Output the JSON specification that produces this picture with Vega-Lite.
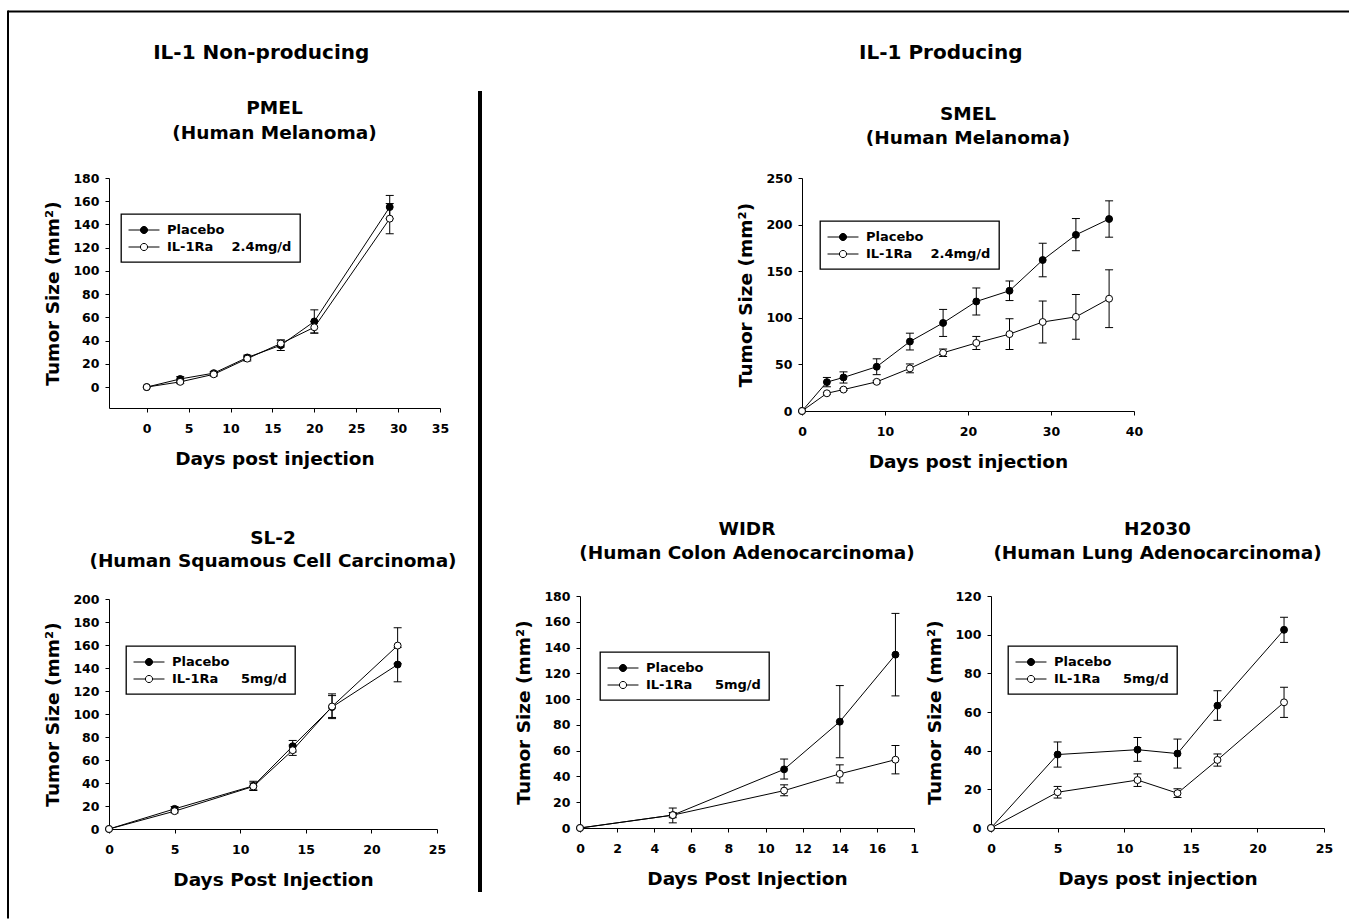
{
  "$schema": "https://vega.github.io/schema/vega-lite/v6.json",
  "padding": {"left": 7, "top": 9, "right": 0, "bottom": 0},
  "background": "white",
  "datasets": {
    "tumor": [
      {"panel": "PMEL", "series": "Placebo", "day": 0, "size": 0, "lo": null, "hi": null},
      {"panel": "PMEL", "series": "Placebo", "day": 4, "size": 7, "lo": 5, "hi": 9},
      {"panel": "PMEL", "series": "Placebo", "day": 8, "size": 12, "lo": 10.5, "hi": 13.5},
      {"panel": "PMEL", "series": "Placebo", "day": 12, "size": 25.5, "lo": 23.5, "hi": 27.5},
      {"panel": "PMEL", "series": "Placebo", "day": 16, "size": 36, "lo": 31.5, "hi": 40.5},
      {"panel": "PMEL", "series": "Placebo", "day": 20, "size": 56.5, "lo": 46.5, "hi": 66.5},
      {"panel": "PMEL", "series": "Placebo", "day": 29, "size": 155, "lo": 145, "hi": 165},
      {"panel": "PMEL", "series": "IL-1Ra", "day": 0, "size": 0, "lo": null, "hi": null},
      {"panel": "PMEL", "series": "IL-1Ra", "day": 4, "size": 4.5, "lo": 3, "hi": 6},
      {"panel": "PMEL", "series": "IL-1Ra", "day": 8, "size": 11, "lo": 9.5, "hi": 12.5},
      {"panel": "PMEL", "series": "IL-1Ra", "day": 12, "size": 24.5, "lo": 22.5, "hi": 26.5},
      {"panel": "PMEL", "series": "IL-1Ra", "day": 16, "size": 37.5, "lo": 34.5, "hi": 40.5},
      {"panel": "PMEL", "series": "IL-1Ra", "day": 20, "size": 51.5, "lo": 46.5, "hi": 56.5},
      {"panel": "PMEL", "series": "IL-1Ra", "day": 29, "size": 145, "lo": 132, "hi": 158},

      {"panel": "SMEL", "series": "Placebo", "day": 0, "size": 0, "lo": null, "hi": null},
      {"panel": "SMEL", "series": "Placebo", "day": 3, "size": 31, "lo": 26, "hi": 36},
      {"panel": "SMEL", "series": "Placebo", "day": 5, "size": 36, "lo": 30, "hi": 42},
      {"panel": "SMEL", "series": "Placebo", "day": 9, "size": 47.5, "lo": 39, "hi": 56},
      {"panel": "SMEL", "series": "Placebo", "day": 13, "size": 74.5, "lo": 65.5, "hi": 83.5},
      {"panel": "SMEL", "series": "Placebo", "day": 17, "size": 94.5, "lo": 80, "hi": 109},
      {"panel": "SMEL", "series": "Placebo", "day": 21, "size": 117.5, "lo": 103, "hi": 132},
      {"panel": "SMEL", "series": "Placebo", "day": 25, "size": 129, "lo": 118.5, "hi": 139.5},
      {"panel": "SMEL", "series": "Placebo", "day": 29, "size": 162, "lo": 144, "hi": 180},
      {"panel": "SMEL", "series": "Placebo", "day": 33, "size": 189, "lo": 172, "hi": 206.5},
      {"panel": "SMEL", "series": "Placebo", "day": 37, "size": 206, "lo": 186.5, "hi": 225.5},
      {"panel": "SMEL", "series": "IL-1Ra", "day": 0, "size": 0, "lo": null, "hi": null},
      {"panel": "SMEL", "series": "IL-1Ra", "day": 3, "size": 19, "lo": 18, "hi": 20},
      {"panel": "SMEL", "series": "IL-1Ra", "day": 5, "size": 23, "lo": 22, "hi": 24},
      {"panel": "SMEL", "series": "IL-1Ra", "day": 9, "size": 31.3, "lo": 30, "hi": 32.6},
      {"panel": "SMEL", "series": "IL-1Ra", "day": 13, "size": 45.7, "lo": 41, "hi": 50.5},
      {"panel": "SMEL", "series": "IL-1Ra", "day": 17, "size": 62.5, "lo": 58.5, "hi": 66.5},
      {"panel": "SMEL", "series": "IL-1Ra", "day": 21, "size": 73, "lo": 66, "hi": 80},
      {"panel": "SMEL", "series": "IL-1Ra", "day": 25, "size": 82.5, "lo": 66, "hi": 99},
      {"panel": "SMEL", "series": "IL-1Ra", "day": 29, "size": 95.5, "lo": 73, "hi": 118},
      {"panel": "SMEL", "series": "IL-1Ra", "day": 33, "size": 101, "lo": 77, "hi": 125},
      {"panel": "SMEL", "series": "IL-1Ra", "day": 37, "size": 120.5, "lo": 89.5, "hi": 151.5},

      {"panel": "SL2", "series": "Placebo", "day": 0, "size": 0, "lo": null, "hi": null},
      {"panel": "SL2", "series": "Placebo", "day": 5, "size": 17.5, "lo": 15.5, "hi": 19.5},
      {"panel": "SL2", "series": "Placebo", "day": 11, "size": 37.5, "lo": 33.5, "hi": 41.5},
      {"panel": "SL2", "series": "Placebo", "day": 14, "size": 72, "lo": 67, "hi": 77},
      {"panel": "SL2", "series": "Placebo", "day": 17, "size": 106, "lo": 96, "hi": 116},
      {"panel": "SL2", "series": "Placebo", "day": 22, "size": 143, "lo": 128, "hi": 158},
      {"panel": "SL2", "series": "IL-1Ra", "day": 0, "size": 0, "lo": null, "hi": null},
      {"panel": "SL2", "series": "IL-1Ra", "day": 5, "size": 15.5, "lo": 14, "hi": 17},
      {"panel": "SL2", "series": "IL-1Ra", "day": 11, "size": 37, "lo": 34, "hi": 40},
      {"panel": "SL2", "series": "IL-1Ra", "day": 14, "size": 68.5, "lo": 64, "hi": 73},
      {"panel": "SL2", "series": "IL-1Ra", "day": 17, "size": 106.5, "lo": 97, "hi": 117.5},
      {"panel": "SL2", "series": "IL-1Ra", "day": 22, "size": 159.5, "lo": 144, "hi": 175},

      {"panel": "WIDR", "series": "Placebo", "day": 0, "size": 0, "lo": null, "hi": null},
      {"panel": "WIDR", "series": "Placebo", "day": 5, "size": 10, "lo": 4, "hi": 15.5},
      {"panel": "WIDR", "series": "Placebo", "day": 11, "size": 45.5, "lo": 38, "hi": 53.5},
      {"panel": "WIDR", "series": "Placebo", "day": 14, "size": 82.5, "lo": 54.5, "hi": 110.5},
      {"panel": "WIDR", "series": "Placebo", "day": 17, "size": 134.5, "lo": 102.5, "hi": 166.5},
      {"panel": "WIDR", "series": "IL-1Ra", "day": 0, "size": 0, "lo": null, "hi": null},
      {"panel": "WIDR", "series": "IL-1Ra", "day": 5, "size": 10, "lo": 8, "hi": 12},
      {"panel": "WIDR", "series": "IL-1Ra", "day": 11, "size": 29, "lo": 25, "hi": 33.5},
      {"panel": "WIDR", "series": "IL-1Ra", "day": 14, "size": 42, "lo": 35, "hi": 49},
      {"panel": "WIDR", "series": "IL-1Ra", "day": 17, "size": 53, "lo": 42, "hi": 64},

      {"panel": "H2030", "series": "Placebo", "day": 0, "size": 0, "lo": null, "hi": null},
      {"panel": "H2030", "series": "Placebo", "day": 5, "size": 38, "lo": 31.5, "hi": 44.5},
      {"panel": "H2030", "series": "Placebo", "day": 11, "size": 40.5, "lo": 34.5, "hi": 46.8},
      {"panel": "H2030", "series": "Placebo", "day": 14, "size": 38.5, "lo": 31, "hi": 46},
      {"panel": "H2030", "series": "Placebo", "day": 17, "size": 63.3, "lo": 55.7, "hi": 71},
      {"panel": "H2030", "series": "Placebo", "day": 22, "size": 102.5, "lo": 96, "hi": 109},
      {"panel": "H2030", "series": "IL-1Ra", "day": 0, "size": 0, "lo": null, "hi": null},
      {"panel": "H2030", "series": "IL-1Ra", "day": 5, "size": 18.5, "lo": 15.5, "hi": 21.5},
      {"panel": "H2030", "series": "IL-1Ra", "day": 11, "size": 24.8, "lo": 21.5, "hi": 28},
      {"panel": "H2030", "series": "IL-1Ra", "day": 14, "size": 18, "lo": 15.8, "hi": 20.3},
      {"panel": "H2030", "series": "IL-1Ra", "day": 17, "size": 35.2, "lo": 32, "hi": 38.3},
      {"panel": "H2030", "series": "IL-1Ra", "day": 22, "size": 65, "lo": 57.2, "hi": 72.8}
    ]
  },
  "bounds": "flush",
  "spacing": 100,
  "resolve": {"scale": {"x": "independent", "y": "independent", "fill": "independent"}, "axis": {"x": "independent", "y": "independent"}, "legend": {"fill": "independent"}},
  "hconcat": [
    {
      "width": 1,
      "height": 1,
      "data": {"values": [{}]},
      "layer": [
        {"mark": {"type": "rule", "color": "black", "strokeWidth": 2},
         "encoding": {
           "x": {"datum": 0, "type": "quantitative", "scale": {"domain": [0, 1]}, "axis": null},
           "y": {"datum": 168.5, "type": "quantitative", "scale": {"domain": [0, 1]}, "axis": null},
           "y2": {"datum": -739.5}}},
        {"mark": {"type": "rule", "color": "black", "strokeWidth": 2},
         "encoding": {
           "x": {"datum": 0, "type": "quantitative", "axis": null},
           "x2": {"datum": 1341},
           "y": {"datum": 167.5, "type": "quantitative", "axis": null}}}
      ]
    },
    {
      "spacing": 32,
      "resolve": {"scale": {"x": "independent", "y": "independent", "fill": "independent"}, "axis": {"x": "independent", "y": "independent"}, "legend": {"fill": "independent"}},
      "hconcat": [
        {
          "spacing": 21,
          "resolve": {"scale": {"x": "independent", "y": "independent", "fill": "independent"}, "axis": {"x": "independent", "y": "independent"}, "legend": {"fill": "independent"}},
          "hconcat": [
            {
              "bounds": "flush",
              "spacing": 191,
              "title": {"text": "IL-1 Non-producing", "fontSize": 20, "offset": 36, "dx": 11, "anchor": "middle"},
              "resolve": {"scale": {"x": "independent", "y": "independent", "fill": "independent"}, "axis": {"x": "independent", "y": "independent"}, "legend": {"fill": "independent"}},
              "vconcat": [
                {
                  "width": 331,
                  "height": 230,
                  "title": {"text": ["PMEL", "(Human Melanoma)"], "offset": 29.5, "lineHeight": 25, "frame": "group"},
                  "data": {"name": "tumor"},
                  "transform": [{"filter": "datum.panel === 'PMEL'"}],
                  "encoding": {
                    "x": {"field": "day", "type": "quantitative", "title": "Days post injection",
                      "scale": {"domain": [-4.5, 35], "nice": false, "zero": false},
                      "axis": {"values": [0, 5, 10, 15, 20, 25, 30, 35], "tickCount": 40, "format": "d", "labelOverlap": false}}
                  },
                  "layer": [
                    {"mark": {"type": "line", "color": "black", "strokeWidth": 1},
                     "encoding": {"y": {"field": "size", "type": "quantitative", "title": "Tumor Size (mm²)",
                       "scale": {"domain": [-18, 180], "nice": false, "zero": false},
                       "axis": {"values": [0, 20, 40, 60, 80, 100, 120, 140, 160, 180], "tickCount": 40, "format": "d", "labelOverlap": false}},
                       "detail": {"field": "series"}}},
                    {"mark": {"type": "rule", "color": "black", "strokeWidth": 1},
                     "encoding": {"y": {"field": "lo", "type": "quantitative", "title": "Tumor Size (mm²)"}, "y2": {"field": "hi"}}},
                    {"mark": {"type": "tick", "orient": "horizontal", "size": 8, "thickness": 1, "color": "black", "opacity": 1},
                     "encoding": {"y": {"field": "lo", "type": "quantitative", "title": "Tumor Size (mm²)"}}},
                    {"mark": {"type": "tick", "orient": "horizontal", "size": 8, "thickness": 1, "color": "black", "opacity": 1},
                     "encoding": {"y": {"field": "hi", "type": "quantitative", "title": "Tumor Size (mm²)"}}},
                    {"mark": {"type": "point", "shape": "circle", "filled": true, "size": 48, "stroke": "black", "strokeWidth": 1, "opacity": 1},
                     "encoding": {
                       "y": {"field": "size", "type": "quantitative", "title": "Tumor Size (mm²)"},
                       "fill": {"field": "series", "type": "nominal",
                         "scale": {"domain": ["Placebo", "IL-1Ra"], "range": ["black", "white"]},
                         "legend": {"title": null, "orient": "none", "legendX": 12, "legendY": 36, "direction": "vertical",
                           "symbolType": "M-2.12,0H-0.49M0.49,0H2.12M-0.49,0A0.49,0.49 0 1,0 0.49,0A0.49,0.49 0 1,0 -0.49,0Z",
                           "labelExpr": "datum.label === 'IL-1Ra' ? 'IL-1Ra\u00a0\u00a0\u00a0\u00a02.4mg/d' : datum.label"}}}}
                  ]
                },
                {
                  "width": 328,
                  "height": 230,
                  "title": {"text": ["SL-2", "(Human Squamous Cell Carcinoma)"], "offset": 23, "lineHeight": 23, "frame": "group"},
                  "data": {"name": "tumor"},
                  "transform": [{"filter": "datum.panel === 'SL2'"}],
                  "encoding": {
                    "x": {"field": "day", "type": "quantitative", "title": "Days Post Injection",
                      "scale": {"domain": [0, 25], "nice": false, "zero": false},
                      "axis": {"values": [0, 5, 10, 15, 20, 25], "tickCount": 40, "format": "d", "labelOverlap": false}}
                  },
                  "layer": [
                    {"mark": {"type": "line", "color": "black", "strokeWidth": 1},
                     "encoding": {"y": {"field": "size", "type": "quantitative", "title": "Tumor Size (mm²)",
                       "scale": {"domain": [0, 200], "nice": false, "zero": false},
                       "axis": {"values": [0, 20, 40, 60, 80, 100, 120, 140, 160, 180, 200], "tickCount": 40, "format": "d", "labelOverlap": false}},
                       "detail": {"field": "series"}}},
                    {"mark": {"type": "rule", "color": "black", "strokeWidth": 1},
                     "encoding": {"y": {"field": "lo", "type": "quantitative", "title": "Tumor Size (mm²)"}, "y2": {"field": "hi"}}},
                    {"mark": {"type": "tick", "orient": "horizontal", "size": 8, "thickness": 1, "color": "black", "opacity": 1},
                     "encoding": {"y": {"field": "lo", "type": "quantitative", "title": "Tumor Size (mm²)"}}},
                    {"mark": {"type": "tick", "orient": "horizontal", "size": 8, "thickness": 1, "color": "black", "opacity": 1},
                     "encoding": {"y": {"field": "hi", "type": "quantitative", "title": "Tumor Size (mm²)"}}},
                    {"mark": {"type": "point", "shape": "circle", "filled": true, "size": 48, "stroke": "black", "strokeWidth": 1, "opacity": 1},
                     "encoding": {
                       "y": {"field": "size", "type": "quantitative", "title": "Tumor Size (mm²)"},
                       "fill": {"field": "series", "type": "nominal",
                         "scale": {"domain": ["Placebo", "IL-1Ra"], "range": ["black", "white"]},
                         "legend": {"title": null, "orient": "none", "legendX": 17, "legendY": 47, "direction": "vertical",
                           "symbolType": "M-2.12,0H-0.49M0.49,0H2.12M-0.49,0A0.49,0.49 0 1,0 0.49,0A0.49,0.49 0 1,0 -0.49,0Z",
                           "labelExpr": "datum.label === 'IL-1Ra' ? 'IL-1Ra\u00a0\u00a0\u00a0\u00a0\u00a05mg/d' : datum.label"}}}}
                  ]
                }
              ]
            },
            {
              "width": 4,
              "height": 714,
              "data": {"values": [{}]},
              "mark": {"type": "rule", "color": "black", "strokeWidth": 4},
              "encoding": {
                "x": {"datum": 0, "type": "quantitative", "scale": {"domain": [-1, 1]}, "axis": null},
                "y": {"datum": 0, "type": "quantitative", "scale": {"domain": [0, 1]}, "axis": null},
                "y2": {"datum": 1.122}
              }
            }
          ]
        },
        {
          "spacing": 48,
          "title": {"text": "IL-1 Producing", "fontSize": 20, "offset": 42, "dx": 17, "anchor": "middle"},
          "resolve": {"scale": {"x": "independent", "y": "independent", "fill": "independent"}, "axis": {"x": "independent", "y": "independent"}, "legend": {"fill": "independent"}},
          "vconcat": [
            {
              "bounds": "flush",
              "spacing": 221,
              "resolve": {"scale": {"x": "independent", "y": "independent", "fill": "independent"}, "axis": {"x": "independent", "y": "independent"}, "legend": {"fill": "independent"}},
              "hconcat": [
                {"width": 1, "height": 1, "data": {"values": [{}]}, "mark": {"type": "point", "opacity": 0}},
                {
                  "width": 332,
                  "height": 233,
                  "title": {"text": ["SMEL", "(Human Melanoma)"], "offset": 24.5, "lineHeight": 24, "frame": "group"},
                  "data": {"name": "tumor"},
                  "transform": [{"filter": "datum.panel === 'SMEL'"}],
                  "encoding": {
                    "x": {"field": "day", "type": "quantitative", "title": "Days post injection",
                      "scale": {"domain": [0, 40], "nice": false, "zero": false},
                      "axis": {"values": [0, 10, 20, 30, 40], "tickCount": 40, "format": "d", "labelOverlap": false}}
                  },
                  "layer": [
                    {"mark": {"type": "line", "color": "black", "strokeWidth": 1},
                     "encoding": {"y": {"field": "size", "type": "quantitative", "title": "Tumor Size (mm²)",
                       "scale": {"domain": [0, 250], "nice": false, "zero": false},
                       "axis": {"values": [0, 50, 100, 150, 200, 250], "tickCount": 40, "format": "d", "labelOverlap": false}},
                       "detail": {"field": "series"}}},
                    {"mark": {"type": "rule", "color": "black", "strokeWidth": 1},
                     "encoding": {"y": {"field": "lo", "type": "quantitative", "title": "Tumor Size (mm²)"}, "y2": {"field": "hi"}}},
                    {"mark": {"type": "tick", "orient": "horizontal", "size": 8, "thickness": 1, "color": "black", "opacity": 1},
                     "encoding": {"y": {"field": "lo", "type": "quantitative", "title": "Tumor Size (mm²)"}}},
                    {"mark": {"type": "tick", "orient": "horizontal", "size": 8, "thickness": 1, "color": "black", "opacity": 1},
                     "encoding": {"y": {"field": "hi", "type": "quantitative", "title": "Tumor Size (mm²)"}}},
                    {"mark": {"type": "point", "shape": "circle", "filled": true, "size": 48, "stroke": "black", "strokeWidth": 1, "opacity": 1},
                     "encoding": {
                       "y": {"field": "size", "type": "quantitative", "title": "Tumor Size (mm²)"},
                       "fill": {"field": "series", "type": "nominal",
                         "scale": {"domain": ["Placebo", "IL-1Ra"], "range": ["black", "white"]},
                         "legend": {"title": null, "orient": "none", "legendX": 18, "legendY": 43, "direction": "vertical",
                           "symbolType": "M-2.12,0H-0.49M0.49,0H2.12M-0.49,0A0.49,0.49 0 1,0 0.49,0A0.49,0.49 0 1,0 -0.49,0Z",
                           "labelExpr": "datum.label === 'IL-1Ra' ? 'IL-1Ra\u00a0\u00a0\u00a0\u00a02.4mg/d' : datum.label"}}}}
                  ]
                }
              ]
            },
            {
              "bounds": "flush",
              "spacing": 77,
              "resolve": {"scale": {"x": "independent", "y": "independent", "fill": "independent"}, "axis": {"x": "independent", "y": "independent"}, "legend": {"fill": "independent"}},
              "hconcat": [
                {
                  "width": 334,
                  "height": 232,
                  "title": {"text": ["WIDR", "(Human Colon Adenocarcinoma)"], "offset": 28, "lineHeight": 24, "frame": "group"},
                  "data": {"name": "tumor"},
                  "transform": [{"filter": "datum.panel === 'WIDR'"}],
                  "encoding": {
                    "x": {"field": "day", "type": "quantitative", "title": "Days Post Injection",
                      "scale": {"domain": [0, 18], "nice": false, "zero": false},
                      "axis": {"values": [0, 2, 4, 6, 8, 10, 12, 14, 16, 18], "tickCount": 40, "format": "d", "labelOverlap": false, "labelExpr": "datum.value === 18 ? '1' : datum.label"}}
                  },
                  "layer": [
                    {"mark": {"type": "line", "color": "black", "strokeWidth": 1},
                     "encoding": {"y": {"field": "size", "type": "quantitative", "title": "Tumor Size (mm²)",
                       "scale": {"domain": [0, 180], "nice": false, "zero": false},
                       "axis": {"values": [0, 20, 40, 60, 80, 100, 120, 140, 160, 180], "tickCount": 40, "format": "d", "labelOverlap": false}},
                       "detail": {"field": "series"}}},
                    {"mark": {"type": "rule", "color": "black", "strokeWidth": 1},
                     "encoding": {"y": {"field": "lo", "type": "quantitative", "title": "Tumor Size (mm²)"}, "y2": {"field": "hi"}}},
                    {"mark": {"type": "tick", "orient": "horizontal", "size": 8, "thickness": 1, "color": "black", "opacity": 1},
                     "encoding": {"y": {"field": "lo", "type": "quantitative", "title": "Tumor Size (mm²)"}}},
                    {"mark": {"type": "tick", "orient": "horizontal", "size": 8, "thickness": 1, "color": "black", "opacity": 1},
                     "encoding": {"y": {"field": "hi", "type": "quantitative", "title": "Tumor Size (mm²)"}}},
                    {"mark": {"type": "point", "shape": "circle", "filled": true, "size": 48, "stroke": "black", "strokeWidth": 1, "opacity": 1},
                     "encoding": {
                       "y": {"field": "size", "type": "quantitative", "title": "Tumor Size (mm²)"},
                       "fill": {"field": "series", "type": "nominal",
                         "scale": {"domain": ["Placebo", "IL-1Ra"], "range": ["black", "white"]},
                         "legend": {"title": null, "orient": "none", "legendX": 20, "legendY": 56, "direction": "vertical",
                           "symbolType": "M-2.12,0H-0.49M0.49,0H2.12M-0.49,0A0.49,0.49 0 1,0 0.49,0A0.49,0.49 0 1,0 -0.49,0Z",
                           "labelExpr": "datum.label === 'IL-1Ra' ? 'IL-1Ra\u00a0\u00a0\u00a0\u00a0\u00a05mg/d' : datum.label"}}}}
                  ]
                },
                {
                  "width": 333,
                  "height": 232,
                  "title": {"text": ["H2030", "(Human Lung Adenocarcinoma)"], "offset": 28, "lineHeight": 24, "frame": "group"},
                  "data": {"name": "tumor"},
                  "transform": [{"filter": "datum.panel === 'H2030'"}],
                  "encoding": {
                    "x": {"field": "day", "type": "quantitative", "title": "Days post injection",
                      "scale": {"domain": [0, 25], "nice": false, "zero": false},
                      "axis": {"values": [0, 5, 10, 15, 20, 25], "tickCount": 40, "format": "d", "labelOverlap": false}}
                  },
                  "layer": [
                    {"mark": {"type": "line", "color": "black", "strokeWidth": 1},
                     "encoding": {"y": {"field": "size", "type": "quantitative", "title": "Tumor Size (mm²)",
                       "scale": {"domain": [0, 120], "nice": false, "zero": false},
                       "axis": {"values": [0, 20, 40, 60, 80, 100, 120], "tickCount": 40, "format": "d", "labelOverlap": false}},
                       "detail": {"field": "series"}}},
                    {"mark": {"type": "rule", "color": "black", "strokeWidth": 1},
                     "encoding": {"y": {"field": "lo", "type": "quantitative", "title": "Tumor Size (mm²)"}, "y2": {"field": "hi"}}},
                    {"mark": {"type": "tick", "orient": "horizontal", "size": 8, "thickness": 1, "color": "black", "opacity": 1},
                     "encoding": {"y": {"field": "lo", "type": "quantitative", "title": "Tumor Size (mm²)"}}},
                    {"mark": {"type": "tick", "orient": "horizontal", "size": 8, "thickness": 1, "color": "black", "opacity": 1},
                     "encoding": {"y": {"field": "hi", "type": "quantitative", "title": "Tumor Size (mm²)"}}},
                    {"mark": {"type": "point", "shape": "circle", "filled": true, "size": 48, "stroke": "black", "strokeWidth": 1, "opacity": 1},
                     "encoding": {
                       "y": {"field": "size", "type": "quantitative", "title": "Tumor Size (mm²)"},
                       "fill": {"field": "series", "type": "nominal",
                         "scale": {"domain": ["Placebo", "IL-1Ra"], "range": ["black", "white"]},
                         "legend": {"title": null, "orient": "none", "legendX": 17, "legendY": 50, "direction": "vertical",
                           "symbolType": "M-2.12,0H-0.49M0.49,0H2.12M-0.49,0A0.49,0.49 0 1,0 0.49,0A0.49,0.49 0 1,0 -0.49,0Z",
                           "labelExpr": "datum.label === 'IL-1Ra' ? 'IL-1Ra\u00a0\u00a0\u00a0\u00a0\u00a05mg/d' : datum.label"}}}}
                  ]
                }
              ]
            }
          ]
        }
      ]
    }
  ],
  "config": {
    "view": {"stroke": null},
    "font": "DejaVu Sans",
    "title": {"font": "DejaVu Sans", "fontWeight": "bold", "fontSize": 18.5, "color": "black", "lineHeight": 24, "anchor": "middle"},
    "axis": {
      "domainColor": "black", "domainWidth": 1, "tickColor": "black", "tickSize": 4, "tickWidth": 1, "grid": false,
      "labelFont": "DejaVu Sans", "labelFontWeight": "bold", "labelFontSize": 12.5, "labelColor": "black",
      "titleFont": "DejaVu Sans", "titleFontWeight": "bold", "titleFontSize": 18.5, "titleColor": "black",
      "labelOverlap": false
    },
    "axisX": {"labelPadding": 10, "titlePadding": 15, "labelFlush": false},
    "axisY": {"labelPadding": 6, "titlePadding": 10},
    "legend": {
      "padding": 8, "rowPadding": 2, "strokeColor": "black", "strokeWidth": 1.3, "fillColor": "white",
      "symbolSize": 213, "symbolStrokeColor": "black", "symbolStrokeWidth": 1, "symbolOffset": 7, "labelOffset": 15,
      "labelFont": "DejaVu Sans", "labelFontWeight": "bold", "labelFontSize": 13, "labelColor": "black", "labelLimit": 400
    }
  }
}
